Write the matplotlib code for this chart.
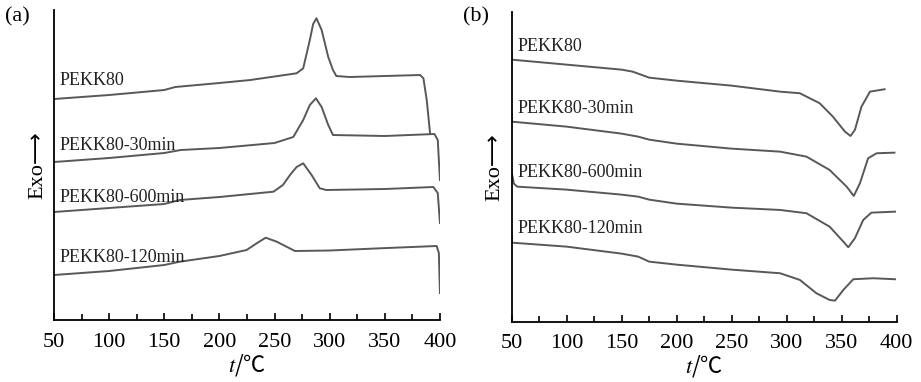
import matplotlib
matplotlib.use('Agg')
import matplotlib.pyplot as plt
from matplotlib.ticker import MultipleLocator

plt.rcParams['font.family'] = ['Liberation Serif', 'DejaVu Serif', 'Noto Sans CJK SC']
plt.rcParams['mathtext.fontset'] = 'stix'

# ---- panel (a): heating curves, exothermic cold-crystallisation peaks ----
a_names = ['PEKK80', 'PEKK80-30min', 'PEKK80-600min', 'PEKK80-120min']
a_x = [
    [50, 100, 150, 160, 200, 228, 270, 276, 282, 285, 288, 292.7, 298.7, 303, 306, 318, 382, 385, 388, 391],
    [50, 100, 150, 165, 200, 250, 267, 276, 282, 287.5, 292.7, 298.7, 303, 350, 395, 398, 400],
    [50, 100, 150, 164, 200, 249, 257.6, 264, 270, 276, 283.6, 291, 297, 350, 394, 398, 400],
    [50, 100, 150, 164, 200, 224.7, 233.8, 242, 252, 268.5, 300, 345.6, 397, 399, 400],
]
a_y = [
    [221, 225, 230, 233, 237, 240, 246.7, 251.7, 280, 296, 301.7, 290, 263, 250, 244, 243, 245, 241.7, 220, 187],
    [158, 162, 167, 170, 172, 177, 183, 200, 215, 221.7, 213, 195, 185, 184, 186, 180, 140],
    [108, 112, 116, 120, 123, 128.3, 135, 145, 153, 156.7, 145, 131.7, 130, 131, 133, 127, 97],
    [45, 49, 55, 58.3, 64, 70, 76.7, 82.3, 78.3, 69, 69.5, 71.7, 74, 67, 27],
]
a_lab_y = [240, 175, 123, 63]

# ---- panel (b): melting endotherms ----
b_names = ['PEKK80', 'PEKK80-30min', 'PEKK80-600min', 'PEKK80-120min']
b_x = [
    [50, 50, 100, 150, 160, 170, 175, 200, 250, 294, 312, 330, 342, 353, 358, 362, 368, 375.7, 389],
    [50, 50, 100, 150, 165, 175, 200, 250, 294, 318, 339, 354.5, 361, 366.6, 374, 381.8, 398],
    [50, 52, 55, 100, 150, 165, 175, 200, 250, 294, 318, 339, 351.5, 356, 362, 369.6, 377, 398.5],
    [50, 50, 100, 150, 165, 175, 200, 250, 294, 312, 327, 339, 343.9, 351.5, 360.5, 378.7, 398.5],
]
b_y = [
    [268, 262, 257, 252, 250, 246, 244, 241, 236, 230, 228.4, 218.4, 205, 190, 185.7, 191.7, 215, 230, 232.4],
    [207, 200, 195, 188, 185, 182, 178, 173, 170, 165, 151.7, 135, 125.7, 138.4, 163.4, 168.4, 169],
    [149, 138, 135, 132, 127, 125, 122, 118, 114, 111.7, 108.4, 95, 80, 74.4, 83.4, 101.7, 109, 110],
    [86, 79, 75, 68, 65, 60, 57, 52, 48.4, 41.7, 28.4, 21.7, 21, 31.7, 42.4, 43.4, 42.4],
]
b_lab_y = [275, 213, 149, 93]

xticks = [50, 100, 150, 200, 250, 300, 350, 400]
line_color = '#585858'

fig = plt.figure(figsize=(9.21, 3.82), dpi=100)
ax1 = fig.add_axes([0.0586, 0.1623, 0.4191, 0.8115])
ax2 = fig.add_axes([0.5556, 0.158, 0.418, 0.8115])

panels = [(ax1, a_names, a_x, a_y, a_lab_y, '(a)', 0.005),
          (ax2, b_names, b_x, b_y, b_lab_y, '(b)', 0.503)]

for ax, names, xs, ys, lab_y, tag, tag_x in panels:
    for name, x, y, ly in zip(names, xs, ys, lab_y):
        ax.plot(x, y, color=line_color, lw=1.4, solid_joinstyle='round')
        ax.text(55, ly, name, fontsize=13, va='center', ha='left', color='#222222')
    ax.set_xlim(50, 400)
    ax.set_ylim(0, 310)
    ax.spines['top'].set_visible(False)
    ax.spines['right'].set_visible(False)
    ax.spines['left'].set_linewidth(1.3)
    ax.spines['bottom'].set_linewidth(1.3)
    ax.set_xticks(xticks)
    ax.xaxis.set_minor_locator(MultipleLocator(25))
    ax.tick_params(axis='x', which='major', direction='in', length=5, width=1.2,
                   labelsize=16, pad=9)
    ax.tick_params(axis='x', which='minor', direction='in', length=4, width=1.2)
    ax.set_yticks([])
    ax.set_xlabel('$t$/℃', fontsize=16, labelpad=0, family='Noto Sans CJK SC')
    ax.set_ylabel('Exo⟶', fontsize=16, labelpad=5,
                  family=['Liberation Serif', 'DejaVu Sans'])
    fig.text(tag_x, 0.955, tag, fontsize=16, va='center', ha='left')

fig.savefig('out.png', dpi=100)
